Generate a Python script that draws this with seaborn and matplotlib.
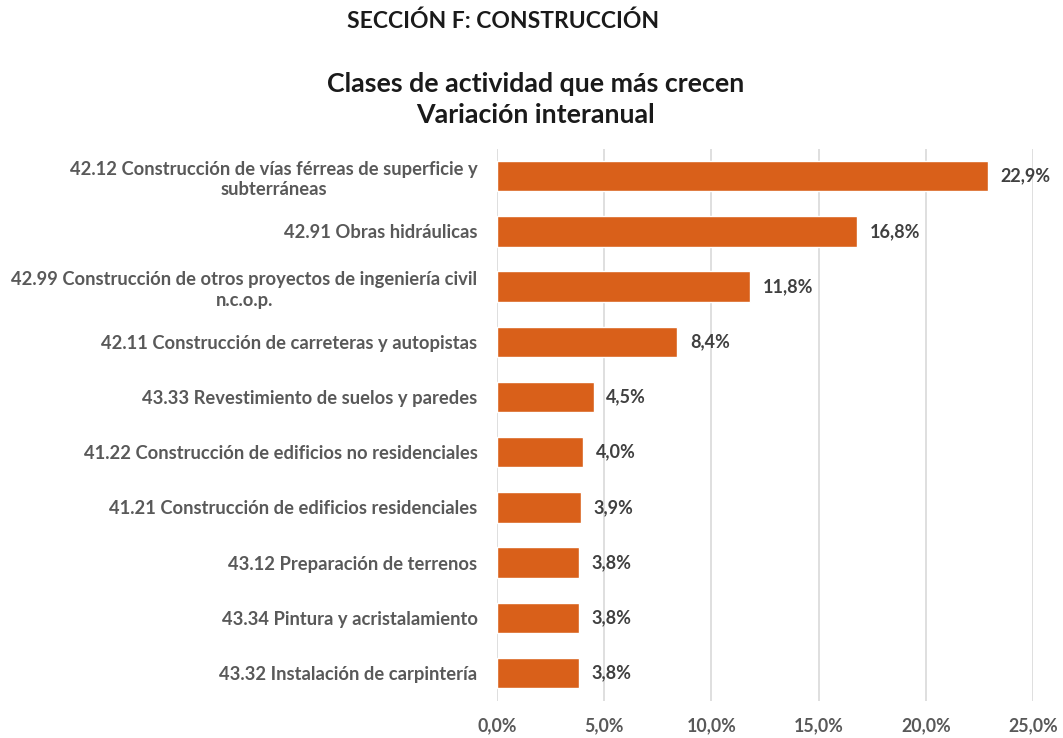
import matplotlib
matplotlib.use("Agg")
import matplotlib.pyplot as plt
import seaborn as sns
import pandas as pd

categories = [
    "42.12 Construcción de vías férreas de superficie y\nsubterráneas",
    "42.91 Obras hidráulicas",
    "42.99 Construcción de otros proyectos de ingeniería civil\nn.c.o.p.",
    "42.11 Construcción de carreteras y autopistas",
    "43.33 Revestimiento de suelos y paredes",
    "41.22 Construcción de edificios no residenciales",
    "41.21 Construcción de edificios residenciales",
    "43.12 Preparación de terrenos",
    "43.34 Pintura y acristalamiento",
    "43.32 Instalación de carpintería",
]
values = [22.9, 16.8, 11.8, 8.4, 4.5, 4.0, 3.9, 3.8, 3.8, 3.8]
x_ticks = [0, 5, 10, 15, 20, 25]

df = pd.DataFrame({"clase": categories, "variacion": values})

sns.set_style("white")
plt.rcParams["font.family"] = ["Lato", "DejaVu Sans"]

fig = plt.figure(figsize=(10.63, 7.38), dpi=100)
ax = fig.add_axes([0.4676, 0.0507, 0.5042, 0.748])

sns.barplot(data=df, x="variacion", y="clase", color="#D9601A", width=0.55,
            saturation=1, ax=ax)

ax.set_xlim(0, 25)
ax.set_xticks(x_ticks)
ax.set_xticklabels([f"{t:.1f}%".replace(".", ",") for t in x_ticks],
                   fontsize=12.8, fontweight="bold", color="#595959")
ax.set_yticks(range(len(categories)))
ax.set_yticklabels(categories, fontsize=13.2, fontweight="bold", color="#595959",
                   multialignment="center", linespacing=1.25)
ax.tick_params(axis="y", length=0, pad=14)
ax.tick_params(axis="x", length=0, pad=12)
ax.set_xlabel("")
ax.set_ylabel("")
ax.xaxis.grid(True, color="#D9D9D9", linewidth=1.2)
ax.set_axisbelow(True)
for s in ax.spines.values():
    s.set_visible(False)

for i, v in enumerate(values):
    ax.text(v + 0.6, i, f"{v:.1f}%".replace(".", ","), va="center", ha="left",
            fontsize=13, fontweight="bold", color="#404040")

fig.text(0.4737, 0.971, "SECCIÓN F: CONSTRUCCIÓN", ha="center", va="center",
         fontsize=16.5, fontweight="bold", color="#1a1a1a")
fig.text(0.504, 0.886, "Clases de actividad que más crecen", ha="center", va="center",
         fontsize=19.3, fontweight="bold", color="#1a1a1a")
fig.text(0.504, 0.844, "Variación interanual", ha="center", va="center",
         fontsize=19.3, fontweight="bold", color="#1a1a1a")

fig.savefig("out.png", dpi=100, facecolor="white")
